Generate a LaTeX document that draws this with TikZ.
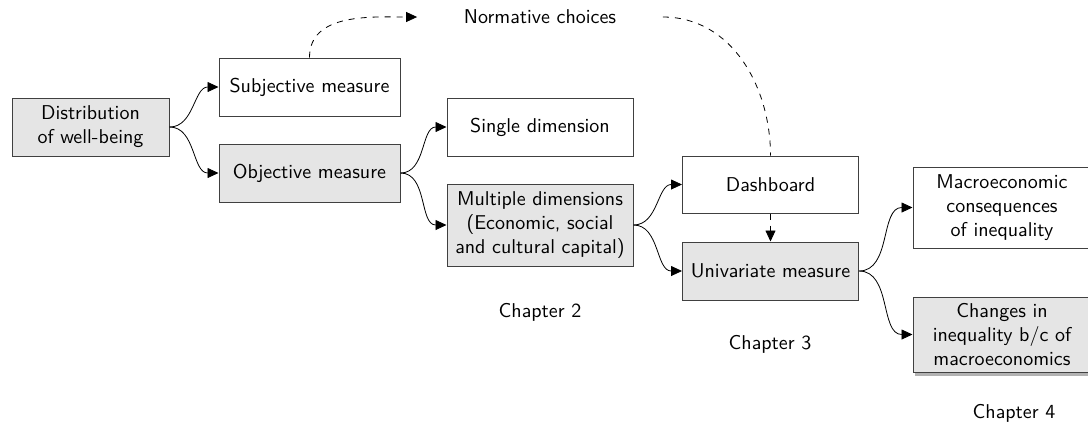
\documentclass[tikz,border=0pt]{standalone}
\usepackage{fontspec}
\usetikzlibrary{arrows.meta,shadows}
\begin{document}
\begin{tikzpicture}[x=0.5pt,y=-0.5pt,
  box/.style={draw=black!75,line width=0.5pt,inner sep=0pt,align=center,font=\sffamily},
  shadedbox/.style={box,fill=gray!20},
  plainbox/.style={box,fill=white},
  conn/.style={-{Triangle[length=5.5pt,width=5pt]},line width=0.4pt},
  normconn/.style={conn,dashed},
  lbl/.style={font=\sffamily,inner sep=0pt}]
\useasboundingbox (0,0) rectangle (1088,425);
\node[shadedbox,minimum width=78.5pt,minimum height=29pt] (dist) at (90.5,127) {Distribution\\of well-being};
\node[plainbox,minimum width=90.5pt,minimum height=29pt] (subj) at (309.5,87) {Subjective measure};
\node[shadedbox,minimum width=90.5pt,minimum height=29pt] (obj) at (309.5,173) {Objective measure};
\node[plainbox,minimum width=93pt,minimum height=29pt] (single) at (540,127) {Single dimension};
\node[shadedbox,minimum width=93pt,minimum height=41pt] (multi) at (540,225) {Multiple dimensions\\(Economic, social\\and cultural capital)};
\node[plainbox,minimum width=88pt,minimum height=28.5pt] (dash) at (770.5,184.5) {Dashboard};
\node[shadedbox,minimum width=88pt,minimum height=29pt] (univ) at (770.5,271) {Univariate measure};
\node[plainbox,minimum width=89pt,minimum height=40.5pt] (macro) at (1002,207.5) {Macroeconomic\\consequences\\of inequality};
\node[shadedbox,minimum width=89pt,minimum height=37.5pt,
  drop shadow={shadow xshift=1pt,shadow yshift=-2pt,fill=gray!60,opacity=1}] (chg) at (1002,334.5) {Changes in\\inequality b/c of\\macroeconomics};
\node[lbl,minimum width=122.5pt] (normative) at (540,17) {Normative choices};
\node[lbl] (ch2) at (540,312) {Chapter 2};
\node[lbl] (ch3) at (770,344) {Chapter 3};
\node[lbl] (ch4) at (1014,413) {Chapter 4};

\draw[conn] (dist.east) to[out=0,in=180] (subj.west);
\draw[conn] (dist.east) to[out=0,in=180] (obj.west);
\draw[conn] (obj.east) to[out=0,in=180] (single.west);
\draw[conn] (obj.east) to[out=0,in=180] (multi.west);
\draw[conn] (multi.east) to[out=0,in=180] (dash.west);
\draw[conn] (multi.east) to[out=0,in=180] (univ.west);
\draw[conn] (univ.east) to[out=0,in=180] (macro.west);
\draw[conn] (univ.east) to[out=0,in=180] (chg.west);
\draw[normconn] (subj.north) to[out=90,in=180] (normative.west);
\draw[dashed,line width=0.4pt] (normative.east) to[out=0,in=90] (dash.north);
\draw[normconn] (dash.south) -- (univ.north);
\end{tikzpicture}
\end{document}
